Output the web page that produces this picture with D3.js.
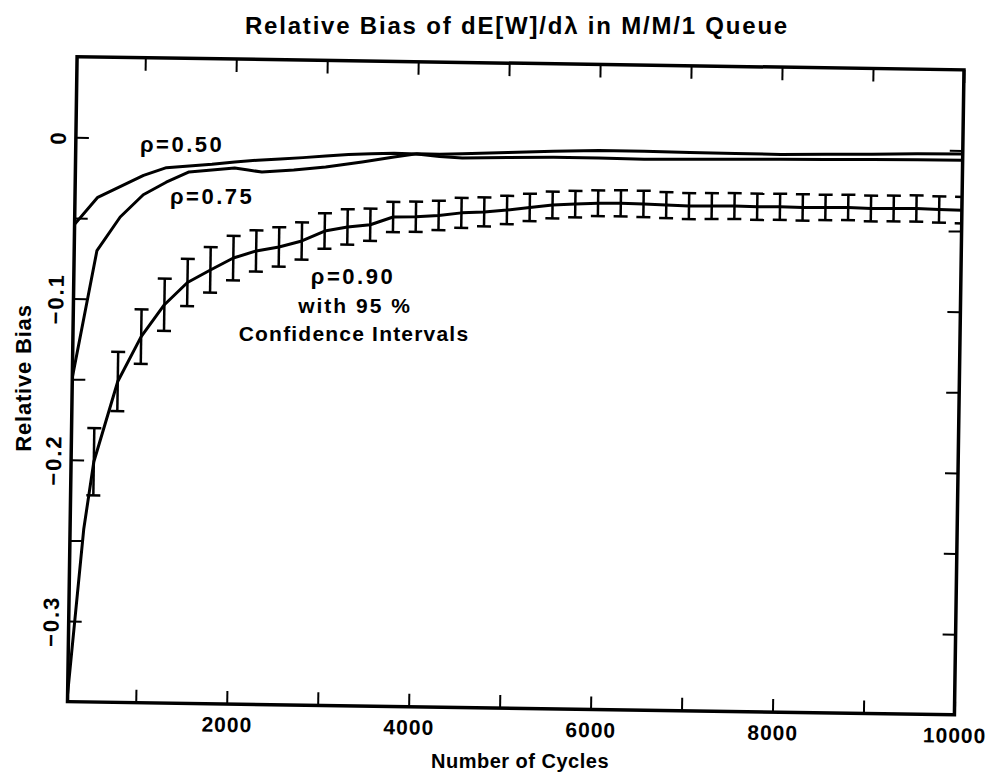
<!DOCTYPE html>
<html>
<head>
<meta charset="utf-8">
<script src="https://cdn.jsdelivr.net/npm/d3@7"></script>
<style>
  body { margin: 0; background: #fff; }
  svg text { font-family: "Liberation Sans", Arial, sans-serif; font-weight: bold; fill: #000; }
</style>
</head>
<body>
<svg id="chart" width="990" height="782"></svg>
<script>
// values
const rho50Cycles = [250, 500, 750, 1000, 1250, 1500, 1750, 2000, 2250, 2500, 2750, 3000, 3250, 3500, 3750, 4000, 4250, 4500, 5000, 5500, 6000, 6500, 7000, 7500, 8000, 8500, 9000, 9500, 10000];
const rho50Bias = [-0.054, -0.037, -0.030, -0.023, -0.018, -0.0168, -0.0155, -0.0138, -0.0125, -0.0115, -0.0105, -0.0093, -0.0082, -0.0074, -0.0069, -0.0072, -0.0086, -0.0092, -0.0085, -0.008, -0.008, -0.0084, -0.008, -0.0075, -0.0071, -0.0068, -0.0065, -0.0062, -0.006];

const rho75Cycles = [250, 500, 750, 1000, 1250, 1500, 1750, 2000, 2150, 2300, 2650, 3000, 3400, 3750, 4000, 4250, 4500, 5000, 5500, 6000, 6500, 7000, 7500, 8000, 8500, 9000, 9500, 10000];
const rho75Bias = [-0.149, -0.070, -0.049, -0.035, -0.027, -0.0204, -0.019, -0.0176, -0.0187, -0.0198, -0.0182, -0.0161, -0.0127, -0.0093, -0.0070, -0.0072, -0.0066, -0.0055, -0.0042, -0.0033, -0.0034, -0.0038, -0.004, -0.0041, -0.0036, -0.0031, -0.0024, -0.0022];

const rho90Cycles = [250, 400, 500, 750, 1000, 1250, 1500, 1750, 2000, 2250, 2500, 2750, 3000, 3250, 3500, 3750, 4000, 4250, 4500, 4750, 5000, 5250, 5500, 5750, 6000, 6250, 6500, 6750, 7000, 7250, 7500, 7750, 8000, 8250, 8500, 8750, 9000, 9250, 9500, 9750, 10000];
const rho90Bias = [-0.345, -0.243, -0.201, -0.151, -0.123, -0.103, -0.089, -0.081, -0.0734, -0.0688, -0.0661, -0.0622, -0.0558, -0.0531, -0.0515, -0.0465, -0.0461, -0.0451, -0.0433, -0.0425, -0.0411, -0.0393, -0.0376, -0.0368, -0.0361, -0.0359, -0.0361, -0.0366, -0.037, -0.0368, -0.0366, -0.0368, -0.0366, -0.0368, -0.0366, -0.0364, -0.0368, -0.0366, -0.0364, -0.0368, -0.037];
// half width of the 95% interval (null = no bar drawn)
const rho90Half = [null, null, 0.0209, 0.0184, 0.0169, 0.0162, 0.0147, 0.0141, 0.0138, 0.0128, 0.0122, 0.0116, 0.011, 0.011, 0.010, 0.0094, 0.0094, 0.0091, 0.0093, 0.009, 0.0088, 0.0085, 0.0083, 0.0082, 0.008, 0.0081, 0.0082, 0.0081, 0.0081, 0.008, 0.008, 0.0081, 0.0081, 0.0082, 0.0079, 0.0079, 0.008, 0.008, 0.0081, 0.0081, 0.0082];

const xTicks = [1000, 2000, 3000, 4000, 5000, 6000, 7000, 8000, 9000, 10000];
const xLabels = [2000, 4000, 6000, 8000, 10000];
const yTicks = [-0.3, -0.25, -0.2, -0.15, -0.1, -0.05, 0];
const yLabels = [0, -0.1, -0.2, -0.3];

const svg = d3.select("#chart");

let x = d3.scaleLinear().domain([250, 10000]).range([72.25, 959.25]);
let y = d3.scaleLinear().domain([-0.35, 0.05]).range([708.25, 63.25]);

// the scanned page is turned a little, so the whole plot box is too
let plot = svg.append("g").attr("transform", "rotate(0.85, 515.75, 385.75)");

plot.append("clipPath").attr("id", "box")
    .append("rect")
    .attr("x", x.range()[0]).attr("y", y.range()[1])
    .attr("width", x.range()[1] - x.range()[0])
    .attr("height", y.range()[0] - y.range()[1]);

let fmtY = d => d === 0 ? "0" : d3.format(".1f")(d);

// axes: all ticks point into the box
let bottom = plot.append("g")
    .attr("transform", `translate(0,${y.range()[0]})`)
    .call(d3.axisBottom(x).tickValues(xTicks).tickSize(-13).tickPadding(13)
        .tickFormat(d => xLabels.includes(d) ? d : ""));
bottom.selectAll("text").style("font-size", "21px").attr("letter-spacing", "1px");

plot.append("g")
    .attr("transform", `translate(0,${y.range()[1]})`)
    .call(d3.axisTop(x).tickValues(xTicks).tickSize(-13).tickFormat(""));

let left = plot.append("g")
    .attr("transform", `translate(${x.range()[0]},0)`)
    .call(d3.axisLeft(y).tickValues(yTicks).tickSize(-13)
        .tickFormat(d => yLabels.some(v => Math.abs(v - d) < 1e-9) ? fmtY(d) : ""));
left.selectAll("text")
    .attr("transform", "rotate(-90)")
    .attr("x", 0).attr("y", -10).attr("dy", 0)
    .attr("text-anchor", "middle")
    .attr("letter-spacing", "2px")
    .style("font-size", "22px");

plot.append("g")
    .attr("transform", `translate(${x.range()[1]},0)`)
    .call(d3.axisRight(y).tickValues(yTicks).tickSize(-13).tickFormat(""));

plot.selectAll(".domain").remove();
plot.selectAll(".tick line").attr("stroke", "#000").attr("stroke-width", 2);

// data
let data = plot.append("g").attr("clip-path", "url(#box)");
let line = d3.line().x(d => x(d[0])).y(d => y(d[1]));

[[rho50Cycles, rho50Bias], [rho75Cycles, rho75Bias], [rho90Cycles, rho90Bias]].forEach(s => {
    data.append("path")
        .datum(d3.zip(s[0], s[1]))
        .attr("fill", "none")
        .attr("stroke", "#000")
        .attr("stroke-width", 3)
        .attr("stroke-linejoin", "round")
        .attr("d", line);
});

let bars = d3.zip(rho90Cycles, rho90Bias, rho90Half).filter(d => d[2] !== null);
let bar = data.selectAll("g.bar").data(bars).enter().append("g")
    .attr("class", "bar")
    .attr("stroke", "#000")
    .attr("stroke-width", 2.5);
bar.append("line")
    .attr("x1", d => x(d[0])).attr("x2", d => x(d[0]))
    .attr("y1", d => y(d[1] + d[2])).attr("y2", d => y(d[1] - d[2]));
bar.append("line")
    .attr("x1", d => x(d[0]) - 7).attr("x2", d => x(d[0]) + 7)
    .attr("y1", d => y(d[1] + d[2])).attr("y2", d => y(d[1] + d[2]));
bar.append("line")
    .attr("x1", d => x(d[0]) - 7).attr("x2", d => x(d[0]) + 7)
    .attr("y1", d => y(d[1] - d[2])).attr("y2", d => y(d[1] - d[2]));

// frame
plot.append("rect")
    .attr("x", x.range()[0]).attr("y", y.range()[1])
    .attr("width", x.range()[1] - x.range()[0])
    .attr("height", y.range()[0] - y.range()[1])
    .attr("fill", "none").attr("stroke", "#000").attr("stroke-width", 3.5);

// titles
svg.append("text")
    .attr("x", 517).attr("y", 34)
    .attr("text-anchor", "middle")
    .attr("letter-spacing", "1.8px")
    .style("font-size", "24px")
    .text("Relative Bias of dE[W]/dλ in M/M/1 Queue");

svg.append("text")
    .attr("x", 520).attr("y", 768)
    .attr("text-anchor", "middle")
    .attr("letter-spacing", "0.5px")
    .style("font-size", "20px")
    .text("Number of Cycles");

svg.append("text")
    .attr("transform", "translate(31,378) rotate(-90)")
    .attr("text-anchor", "middle")
    .attr("letter-spacing", "0.8px")
    .style("font-size", "22px")
    .text("Relative Bias");

// curve annotations
let notes = [
    {t: "ρ=0.50", x: 140, y: 152, a: "start", s: 22, ls: 2.5},
    {t: "ρ=0.75", x: 170, y: 204, a: "start", s: 22, ls: 2.5},
    {t: "ρ=0.90", x: 353, y: 284, a: "middle", s: 22, ls: 2.5},
    {t: "with 95 %", x: 355, y: 313, a: "middle", s: 21, ls: 2},
    {t: "Confidence Intervals", x: 354, y: 341, a: "middle", s: 21, ls: 1.2}
];
svg.selectAll("text.note").data(notes).enter().append("text")
    .attr("class", "note")
    .attr("x", d => d.x).attr("y", d => d.y)
    .attr("text-anchor", d => d.a)
    .attr("letter-spacing", d => d.ls + "px")
    .style("font-size", d => d.s + "px")
    .text(d => d.t);
</script>
</body>
</html>
